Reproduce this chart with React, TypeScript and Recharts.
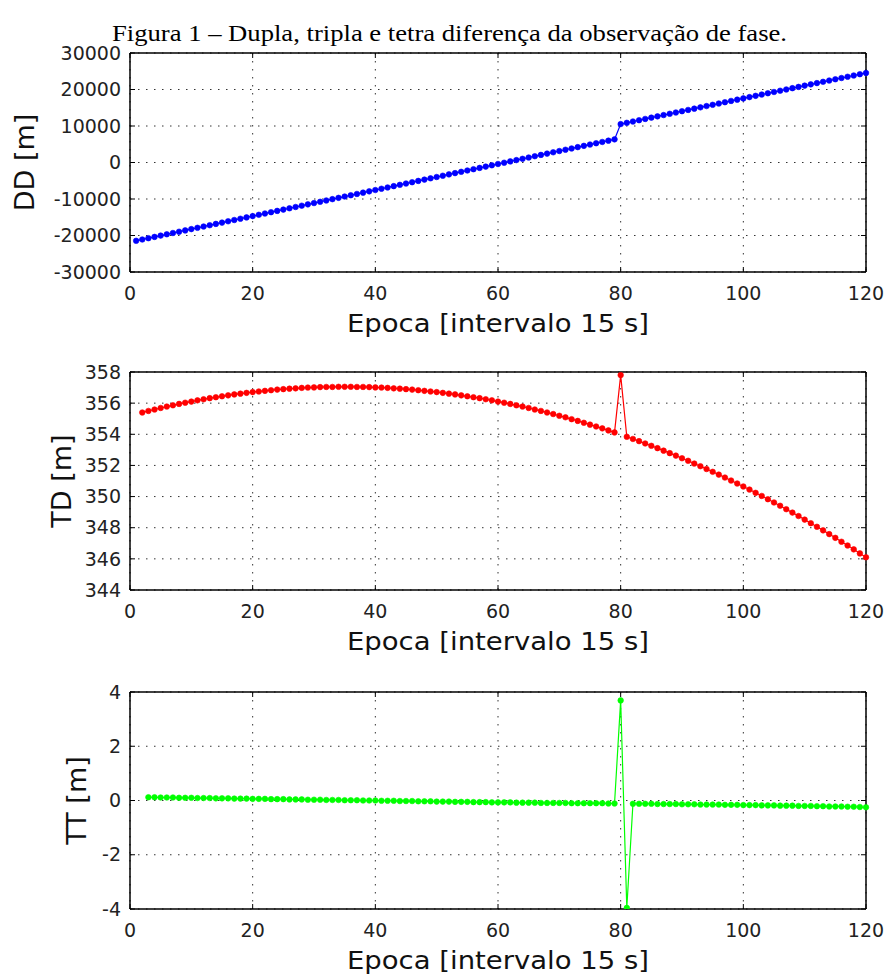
import React from 'react'
import { LineChart, Line, XAxis, YAxis, CartesianGrid, Label } from 'recharts'

const title = 'Figura 1 – Dupla, tripla e tetra diferença da observação de fase.'
const xTitle = 'Epoca [intervalo 15 s]'
const epochTicks = [0, 20, 40, 60, 80, 100, 120]

// dupla diferença, epocas 1..120
const ddStart = 1
const ddValues = [
  -21450, -21095, -20739, -20384, -20028, -19672, -19316, -18960, -18604, -18248,
  -17892, -17536, -17179, -16823, -16467, -16110, -15754, -15397, -15040, -14684,
  -14327, -13970, -13613, -13256, -12899, -12542, -12186, -11829, -11472, -11115,
  -10757, -10400, -10043, -9686, -9329, -8972, -8615, -8258, -7901, -7544,
  -7187, -6830, -6473, -6116, -5759, -5403, -5046, -4689, -4332, -3975,
  -3619, -3262, -2906, -2549, -2193, -1836, -1480, -1124, -768, -411,
  -55, 301, 656, 1012, 1368, 1724, 2079, 2434, 2790, 3145,
  3500, 3855, 4210, 4565, 4919, 5274, 5628, 5982, 6337, 10520,
  10874, 11228, 11581, 11935, 12288, 12641, 12994, 13347, 13699, 14052,
  14404, 14756, 15108, 15460, 15811, 16163, 16514, 16865, 17216, 17567,
  17917, 18267, 18617, 18967, 19317, 19666, 20015, 20364, 20713, 21062,
  21410, 21758, 22106, 22453, 22801, 23148, 23495, 23841, 24188, 24534,
]
const ddTicks = [-30000, -20000, -10000, 0, 10000, 20000, 30000]

// tripla diferença, epocas 2..120
const tdStart = 2
const tdValues = [
  355.40, 355.50, 355.59, 355.69, 355.78, 355.86, 355.95, 356.03, 356.10,
  356.18, 356.25, 356.32, 356.38, 356.44, 356.50, 356.56, 356.61, 356.66, 356.71,
  356.75, 356.79, 356.83, 356.87, 356.90, 356.93, 356.95, 356.98, 357.00, 357.01,
  357.03, 357.04, 357.04, 357.05, 357.05, 357.05, 357.04, 357.04, 357.03, 357.01,
  357.00, 356.98, 356.95, 356.93, 356.90, 356.87, 356.83, 356.79, 356.75, 356.71,
  356.66, 356.61, 356.56, 356.50, 356.44, 356.38, 356.32, 356.25, 356.18, 356.10,
  356.03, 355.95, 355.86, 355.78, 355.69, 355.59, 355.50, 355.40, 355.30, 355.19,
  355.09, 354.97, 354.86, 354.74, 354.62, 354.50, 354.38, 354.25, 354.12, 357.80,
  353.84, 353.70, 353.56, 353.41, 353.26, 353.11, 352.95, 352.79, 352.63, 352.46,
  352.30, 352.12, 351.95, 351.77, 351.59, 351.41, 351.22, 351.03, 350.84, 350.65,
  350.45, 350.24, 350.04, 349.83, 349.62, 349.41, 349.19, 348.97, 348.75, 348.52,
  348.29, 348.06, 347.83, 347.59, 347.35, 347.10, 346.86, 346.61, 346.35, 346.10,
]
const tdTicks = [344, 346, 348, 350, 352, 354, 356, 358]

// tetra diferença, epocas 3..120
const ttStart = 3
const ttValues = [
  0.12, 0.12, 0.11, 0.11, 0.11, 0.10, 0.10, 0.10,
  0.09, 0.09, 0.09, 0.08, 0.08, 0.08, 0.07, 0.07, 0.07, 0.06,
  0.06, 0.06, 0.05, 0.05, 0.05, 0.04, 0.04, 0.04, 0.03, 0.03,
  0.03, 0.02, 0.02, 0.02, 0.01, 0.01, 0.01, 0.00, 0.00, 0.00,
  -0.01, -0.01, -0.01, -0.02, -0.02, -0.02, -0.03, -0.03, -0.03, -0.04,
  -0.04, -0.04, -0.05, -0.05, -0.05, -0.06, -0.06, -0.06, -0.07, -0.07,
  -0.07, -0.07, -0.08, -0.08, -0.08, -0.08, -0.09, -0.09, -0.09, -0.09,
  -0.09, -0.10, -0.10, -0.10, -0.10, -0.10, -0.10, -0.11, -0.11, 3.69,
  -3.96, -0.12, -0.12, -0.12, -0.12, -0.13, -0.13, -0.13, -0.13, -0.14,
  -0.14, -0.14, -0.15, -0.15, -0.15, -0.15, -0.16, -0.16, -0.16, -0.17,
  -0.17, -0.17, -0.18, -0.18, -0.18, -0.19, -0.19, -0.19, -0.20, -0.20,
  -0.20, -0.21, -0.21, -0.22, -0.22, -0.22, -0.23, -0.23, -0.24, -0.25,
]
const ttTicks = [-4, -2, 0, 2, 4]

const toRows = (start: number, values: number[]) =>
  values.map((v, i) => ({ epoch: start + i, value: v }))

const W = 885
const tickFont = { fontSize: 19, fill: '#222', fontFamily: 'DejaVu Sans' }
const frame = { stroke: '#000', strokeWidth: 1.5 }
const blank = () => ''

interface PanelProps {
  rows: { epoch: number; value: number }[]
  yTicks: number[]
  color: string
  yLabel: string
  yLabelX: number
  height: number
  marginTop: number
  marginBottom: number
}

function Panel({ rows, yTicks, color, yLabel, yLabelX, height, marginTop, marginBottom }: PanelProps) {
  const domain = [yTicks[0], yTicks[yTicks.length - 1]]

  const xLabel = (props: any) => {
    const vb = props.viewBox
    return (
      <text
        x={vb.x + vb.width / 2}
        y={vb.y + 60}
        textAnchor="middle"
        fontFamily="DejaVu Sans"
        fontSize={24}
        fill="#111"
        textLength={302}
        lengthAdjust="spacingAndGlyphs"
      >
        {xTitle}
      </text>
    )
  }

  const yLab = (props: any) => {
    const vb = props.viewBox
    const cy = vb.y + vb.height / 2
    return (
      <text
        x={yLabelX}
        y={cy}
        dy="0.32em"
        transform={`rotate(-90, ${yLabelX}, ${cy})`}
        textAnchor="middle"
        fontFamily="DejaVu Sans"
        fontSize={27}
        fill="#111"
      >
        {yLabel}
      </text>
    )
  }

  return (
    <LineChart
      width={W}
      height={height}
      data={rows}
      margin={{ top: marginTop, right: 19, bottom: marginBottom, left: 40 }}
    >
      <CartesianGrid stroke="#333" strokeDasharray="1.5 6.5" />
      <XAxis
        dataKey="epoch"
        type="number"
        domain={[0, 120]}
        ticks={epochTicks}
        interval={0}
        height={60}
        tickLine={false}
        tickSize={6}
        tickMargin={9}
        axisLine={frame}
        tick={tickFont}
      >
        <Label content={xLabel} />
      </XAxis>
      <XAxis
        xAxisId="top"
        orientation="top"
        mirror
        dataKey="epoch"
        type="number"
        domain={[0, 120]}
        ticks={epochTicks}
        interval={0}
        tickSize={5}
        tickFormatter={blank}
        axisLine={frame}
        tickLine={{ stroke: '#000' }}
      />
      <XAxis
        xAxisId="bottomIn"
        orientation="bottom"
        mirror
        dataKey="epoch"
        type="number"
        domain={[0, 120]}
        ticks={epochTicks}
        interval={0}
        tickSize={5}
        tickFormatter={blank}
        axisLine={false}
        tickLine={{ stroke: '#000' }}
      />
      <YAxis
        type="number"
        domain={domain}
        ticks={yTicks}
        interval={0}
        allowDataOverflow
        width={90}
        tickLine={false}
        tickSize={6}
        tickMargin={3}
        axisLine={frame}
        tick={tickFont}
      >
        <Label content={yLab} />
      </YAxis>
      <YAxis
        yAxisId="right"
        orientation="right"
        mirror
        type="number"
        domain={domain}
        ticks={yTicks}
        interval={0}
        allowDataOverflow
        tickSize={5}
        tickFormatter={blank}
        axisLine={frame}
        tickLine={{ stroke: '#000' }}
      />
      <YAxis
        yAxisId="leftIn"
        orientation="left"
        mirror
        type="number"
        domain={domain}
        ticks={yTicks}
        interval={0}
        allowDataOverflow
        tickSize={5}
        tickFormatter={blank}
        axisLine={false}
        tickLine={{ stroke: '#000' }}
      />
      <Line
        type="linear"
        dataKey="value"
        stroke={color}
        strokeWidth={1.2}
        dot={{ r: 2.8, fill: color, stroke: color, strokeWidth: 0.6 }}
        isAnimationActive={false}
      />
    </LineChart>
  )
}

export default function App() {
  return (
    <div style={{ position: 'absolute', left: 0, top: 0, width: W, height: 974, background: '#fff' }}>
      <svg width={W} height={50} style={{ position: 'absolute', left: 0, top: 0 }}>
        <text
          x={112}
          y={41}
          fontFamily="Liberation Serif"
          fontSize={24}
          fill="#000"
          textLength={675}
          lengthAdjust="spacingAndGlyphs"
        >
          {title}
        </text>
      </svg>
      <div style={{ position: 'absolute', left: 0, top: 0 }}>
        <Panel
          rows={toRows(ddStart, ddValues)}
          yTicks={ddTicks}
          color="#0000ff"
          yLabel="DD [m]"
          yLabelX={25}
          height={345}
          marginTop={53}
          marginBottom={13}
        />
      </div>
      <div style={{ position: 'absolute', left: 0, top: 345 }}>
        <Panel
          rows={toRows(tdStart, tdValues)}
          yTicks={tdTicks}
          color="#ff0000"
          yLabel="TD [m]"
          yLabelX={62}
          height={320}
          marginTop={27}
          marginBottom={15}
        />
      </div>
      <div style={{ position: 'absolute', left: 0, top: 665 }}>
        <Panel
          rows={toRows(ttStart, ttValues)}
          yTicks={ttTicks}
          color="#00ff00"
          yLabel="TT [m]"
          yLabelX={77}
          height={309}
          marginTop={27}
          marginBottom={5}
        />
      </div>
    </div>
  )
}
